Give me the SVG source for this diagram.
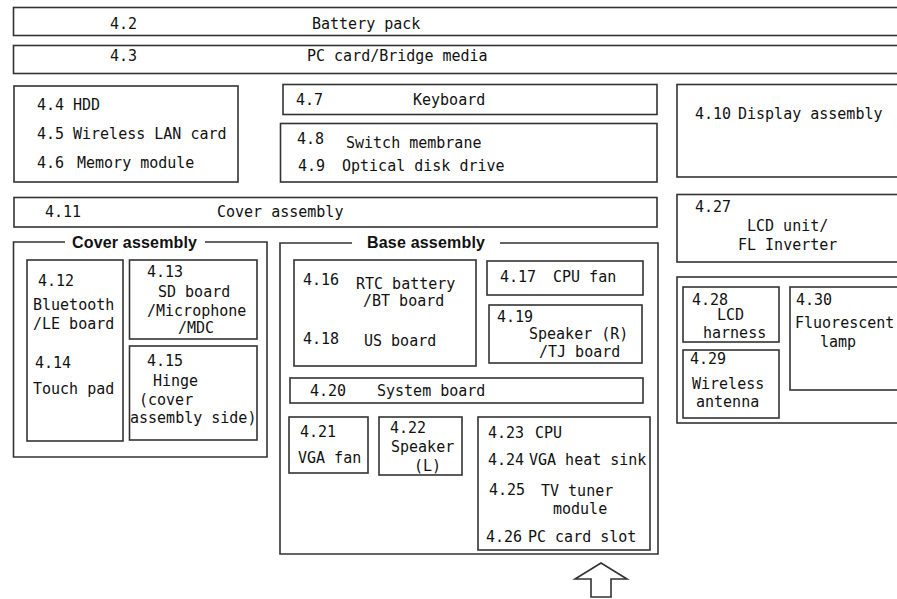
<svg xmlns="http://www.w3.org/2000/svg" width="897" height="599" viewBox="0 0 897 599">
<style>
.b{fill:#fff;stroke:#333;stroke-width:1.6}
.f{fill:none;stroke:#333;stroke-width:1.6}
text{font-family:"DejaVu Sans Mono","Liberation Mono",monospace;font-size:15px;fill:#111}
.h{font-family:"Liberation Sans",Arial,sans-serif;font-weight:bold;font-size:16px}
</style>
<rect width="897" height="599" fill="#fff"/>
<g id="battery"><rect class="b" x="13.5" y="7.5" width="900" height="28"/><text x="110" y="29">4.2</text><text x="312" y="29">Battery pack</text></g>
<g id="pccard"><rect class="b" x="13.5" y="45.5" width="900" height="28"/><text x="110" y="61">4.3</text><text x="307" y="61">PC card/Bridge media</text></g>
<g id="hdd"><rect class="b" x="14" y="86" width="224" height="96"/><text x="37" y="110">4.4</text><text x="73" y="110">HDD</text><text x="37" y="139">4.5</text><text x="73" y="139">Wireless LAN card</text><text x="37" y="168">4.6</text><text x="77" y="168">Memory module</text></g>
<g id="keyboard"><rect class="b" x="283" y="84.5" width="374" height="30"/><text x="296" y="105">4.7</text><text x="413" y="105">Keyboard</text></g>
<g id="switch"><rect class="b" x="280.5" y="123.5" width="376.5" height="58.5"/><text x="297" y="144">4.8</text><text x="346" y="148">Switch membrane</text><text x="298" y="171">4.9</text><text x="342" y="171">Optical disk drive</text></g>
<g id="display"><rect class="b" x="677" y="84.5" width="240" height="92.5"/><text x="695" y="119">4.10</text><text x="738" y="119">Display assembly</text></g>
<g id="cover411"><rect class="b" x="14" y="197.5" width="643" height="29.5"/><text x="45" y="217">4.11</text><text x="217" y="217">Cover assembly</text></g>
<g id="lcdunit"><rect class="b" x="677" y="194.5" width="240" height="67.5"/><text x="695" y="212">4.27</text><text x="747" y="231">LCD unit/</text><text x="738" y="250">FL Inverter</text></g>
<g id="coverassembly"><path class="f" d="M65,242 H13.5 V457 H267 V242 H205"/><text class="h" x="72" y="248" textLength="125">Cover assembly</text>
<g id="n412"><rect class="b" x="27" y="260" width="96" height="181"/><text x="38" y="286">4.12</text><text x="33" y="310">Bluetooth</text><text x="33" y="329">/LE board</text><text x="35" y="368">4.14</text><text x="33" y="394">Touch pad</text></g>
<g id="n413"><rect class="b" x="129.5" y="260" width="127.5" height="79"/><text x="147" y="277">4.13</text><text x="158" y="297">SD board</text><text x="147" y="316">/Microphone</text><text x="178" y="333">/MDC</text></g>
<g id="n415"><rect class="b" x="129.5" y="346" width="127.5" height="94"/><text x="147" y="366">4.15</text><text x="153" y="386">Hinge</text><text x="139" y="405">(cover</text><text x="130" y="423">assembly side)</text></g>
</g>
<g id="baseassembly"><path class="f" d="M352,243 H280 V554 H658 V243 H500"/><text class="h" x="367" y="248" textLength="118">Base assembly</text>
<g id="n416"><rect class="b" x="294" y="260" width="182" height="106"/><text x="303" y="285">4.16</text><text x="356" y="289">RTC battery</text><text x="363" y="306">/BT board</text><text x="303" y="344">4.18</text><text x="364" y="346">US board</text></g>
<g id="n417"><rect class="b" x="487" y="261" width="156" height="34"/><text x="500" y="282">4.17</text><text x="553" y="282">CPU fan</text></g>
<g id="n419"><rect class="b" x="489" y="305" width="153" height="58"/><text x="497" y="322">4.19</text><text x="529" y="339">Speaker (R)</text><text x="539" y="357">/TJ board</text></g>
<g id="n420"><rect class="b" x="290" y="378" width="353" height="25"/><text x="310" y="396">4.20</text><text x="377" y="396">System board</text></g>
<g id="n421"><rect class="b" x="289" y="417" width="79" height="56"/><text x="300" y="437">4.21</text><text x="298" y="463">VGA fan</text></g>
<g id="n422"><rect class="b" x="379" y="417" width="83" height="58"/><text x="390" y="433">4.22</text><text x="391" y="452">Speaker</text><text x="414" y="471">(L)</text></g>
<g id="n423"><rect class="b" x="478" y="417" width="172" height="133"/><text x="488" y="438">4.23</text><text x="535" y="438">CPU</text><text x="488" y="465">4.24</text><text x="529" y="465">VGA heat sink</text><text x="489" y="495">4.25</text><text x="541" y="496">TV tuner</text><text x="553" y="514">module</text><text x="486" y="542">4.26</text><text x="528" y="542">PC card slot</text></g>
</g>
<g id="lcdgroup"><rect class="b" x="677" y="277" width="240" height="146"/>
<g id="n428"><rect class="b" x="683" y="287" width="96" height="55"/><text x="692" y="305">4.28</text><text x="717" y="320">LCD</text><text x="703" y="338">harness</text></g>
<g id="n429"><rect class="b" x="683" y="350" width="96" height="68"/><text x="690" y="364">4.29</text><text x="692" y="389">Wireless</text><text x="696" y="407">antenna</text></g>
<g id="n430"><rect class="b" x="790" y="287" width="127" height="103"/><text x="796" y="305">4.30</text><text x="795" y="328">Fluorescent</text><text x="820" y="347">lamp</text></g>
</g>
<g id="connectors"><polygon class="b" points="601,563 627,579 611,579 611,597 591,597 591,579 575,579"/></g>
</svg>
